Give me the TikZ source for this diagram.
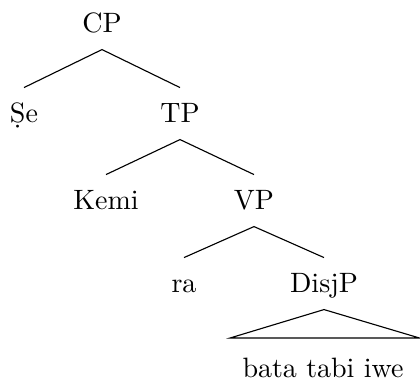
\documentclass[tikz,border=0pt]{standalone}
\usepackage{fontspec}
\begin{document}
\begin{tikzpicture}[x=0.35714pt,y=-0.35714pt,
  lab/.style={anchor=base,inner sep=0pt,text height=12.1pt,text depth=6.07pt,font=\fontsize{10}{12}\selectfont},
  branch/.style={line width=0.4pt}]
\useasboundingbox (0,0) rectangle (420,383);
\node[lab] (cp) at (102,32) {CP};
\node[lab] (se) at (24,122) {\d{S}e};
\node[lab] (tp) at (180,122) {TP};
\node[lab] (kemi) at (106,209) {Kemi};
\node[lab] (vp) at (254,209) {VP};
\node[lab] (ra) at (184,292) {ra};
\node[lab] (disjp) at (324,292) {DisjP};
\node[lab] (leaf) at (323,377) {bata tabi iwe};
\coordinate (tl) at (230,338);
\coordinate (tr) at (419.5,338);
\draw[branch] (se.north) -- (cp.south) -- (tp.north);
\draw[branch] (kemi.north) -- (tp.south) -- (vp.north);
\draw[branch] (ra.north) -- (vp.south) -- (disjp.north);
\draw[branch] (disjp.south) -- (tl) -- (tr) -- cycle;
\end{tikzpicture}
\end{document}
